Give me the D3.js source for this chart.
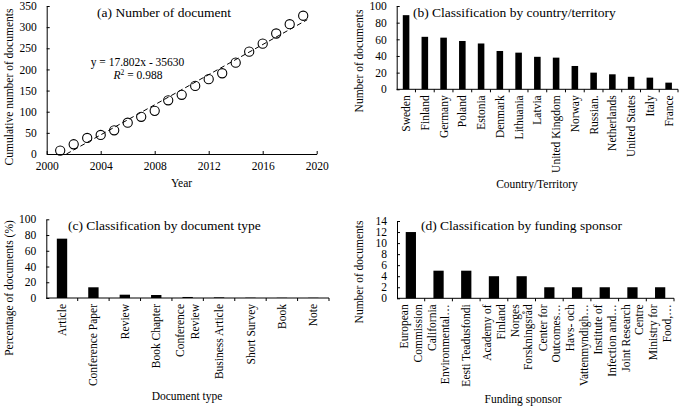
<!DOCTYPE html>
<html><head><meta charset="utf-8">
<script src="https://cdn.jsdelivr.net/npm/d3@7"></script>
<style>
body{margin:0;background:#fff}
svg{display:block}
text{font-family:"Liberation Serif","Times New Roman",serif;fill:#000}
</style>
</head><body><svg id="chart" width="685" height="406"></svg>
<script>
// ---------- DATA ----------
const years = [2001,2002,2003,2004,2005,2006,2007,2008,2009,2010,2011,2012,2013,2014,2015,2016,2017,2018,2019];
const cumulativeDocs = [8,23,38,45,56,74,88,102,127,140,161,177,191,216,242,261,285,307,327];
const yearTicks = [2000,2004,2008,2012,2016,2020];
const cumTicks = [0,50,100,150,200,250,300,350];
const trendSlope = 17.802, trendIntercept = -35630;
const trendRange = [2001.46, 2019.3];

const countries = ["Sweden","Finland","Germany","Poland","Estonia","Denmark","Lithuania","Latvia","United Kingdom","Norway","Russian.","Netherlands","United States","Italy","France"];
const countryDocs = [89,63,62,58,55,46,44,39,38,28,20,18,15,14,8];
const countryTicks = [0,20,40,60,80,100];

const docTypes = [["Article"],["Conference Paper"],["Review"],["Book Chapter"],["Conference","Review"],["Business Article"],["Short Survey"],["Book"],["Note"]];
const docTypePct = [75.4,13.6,4.2,3.8,1.3,0.8,0.4,0.3,0.3];
const pctTicks = [0,20,40,60,80,100];

const sponsors = [["European","Commission"],["California","Environmental\u2026"],["Eesti Teadusfondi"],["Academy of","Finland"],["Norges","Forskningsr\u00e5d"],["Center for","Outcomes\u2026"],["Havs- och","Vattenmyndigh\u2026"],["Institute of","Infection and\u2026"],["Joint Research","Centre"],["Ministry for","Food,\u2026"]];
const sponsorDocs = [12,5,5,4,4,2,2,2,2,2];
const sponsorTicks = [0,2,4,6,8,10,12,14];

// ---------- DRAW ----------
const svg = d3.select("#chart");
const TICK_FS = 11.5, TITLE_FS = 13.5, AXT_FS = 11.5;

function yAxis(g, scale, x, ticks){
  const ax = d3.axisLeft(scale).tickValues(ticks).tickSizeInner(-3).tickSizeOuter(0).tickPadding(10);
  const a = g.append("g").attr("transform",`translate(${x},0)`).call(ax);
  a.selectAll("path,line").attr("stroke","#000").attr("stroke-width",1);
  a.selectAll("text").style("font-size",TICK_FS+"px").style("font-family",'"Liberation Serif",serif').attr("fill","#000");
  return a;
}

function catAxis(g, band, y, labels, lineGap){
  const r = band.range();
  g.append("line").attr("x1",r[0]).attr("x2",r[1]).attr("y1",y).attr("y2",y).attr("stroke","#000");
  const n = band.domain().length;
  for(let i=1;i<=n;i++){
    const x = r[0] + band.step()*i;
    g.append("line").attr("x1",x).attr("x2",x).attr("y1",y).attr("y2",y+3).attr("stroke","#000");
  }
  band.domain().forEach((d,i)=>{
    const lines = labels[i];
    const cx = band(d) + band.bandwidth()/2;
    lines.forEach((t,j)=>{
      const lx = cx + (j-(lines.length-1)/2)*lineGap;
      g.append("text").attr("transform",`translate(${lx},${y+6}) rotate(-90)`)
        .attr("text-anchor","end").attr("dy","0.35em").style("font-size",TICK_FS+"px").text(t);
    });
  });
}

function title(g, txt, x, y, anchor){
  g.append("text").attr("x",x).attr("y",y).attr("text-anchor",anchor||"start").style("font-size",TITLE_FS+"px").text(txt);
}
function xTitle(g, txt, x, y){
  g.append("text").attr("x",x).attr("y",y).attr("text-anchor","middle").style("font-size",AXT_FS+"px").text(txt);
}
function yTitle(g, txt, x, y){
  g.append("text").attr("transform",`translate(${x},${y}) rotate(-90)`).attr("text-anchor","middle")
    .attr("dominant-baseline","central").style("font-size",AXT_FS+"px").text(txt);
}

// ----- Panel (a)
{
  const g = svg.append("g");
  const x = d3.scaleLinear().domain([2000,2020]).range([46.7,316.7]);
  const y = d3.scaleLinear().domain([0,350]).range([154,6]);
  const xa = g.append("g").attr("transform",`translate(0,${y(0)})`)
    .call(d3.axisBottom(x).tickValues(yearTicks).tickFormat(d3.format("d")).tickSizeInner(-3).tickSizeOuter(0).tickPadding(7.5));
  xa.selectAll("path,line").attr("stroke","#000");
  xa.selectAll("text").style("font-size",TICK_FS+"px").style("font-family",'"Liberation Serif",serif').attr("fill","#000");
  yAxis(g, y, x(2000), cumTicks);
  // trend line
  g.append("line")
    .attr("x1",x(trendRange[0])).attr("y1",y(trendSlope*trendRange[0]+trendIntercept))
    .attr("x2",x(trendRange[1])).attr("y2",y(trendSlope*trendRange[1]+trendIntercept))
    .attr("stroke","#000").attr("stroke-width",1).attr("stroke-dasharray","5,3");
  g.selectAll("circle.pt").data(years).enter().append("circle")
    .attr("cx",d=>x(d)).attr("cy",(d,i)=>y(cumulativeDocs[i])).attr("r",4.6)
    .attr("fill","none").attr("stroke","#000").attr("stroke-width",1.1);
  title(g,"(a) Number of document",164,16.5,"middle");
  g.append("text").attr("x",137.5).attr("y",65.5).attr("text-anchor","middle").style("font-size","11.5px")
    .text(`y = ${trendSlope}x - ${Math.abs(trendIntercept)}`);
  const r2 = g.append("text").attr("x",138).attr("y",78.5).attr("text-anchor","middle").style("font-size","11.5px");
  r2.append("tspan").style("font-style","italic").text("R");
  r2.append("tspan").attr("dy","-4").style("font-size","7.5px").text("2");
  r2.append("tspan").attr("dy","4").text(" = 0.988");
  xTitle(g,"Year",181.5,187);
  yTitle(g,"Cumulative number of documents",8.5,87);
}

// ----- Panel (b)
{
  const g = svg.append("g");
  const x = d3.scaleBand().domain(countries).range([396.7,678]);
  const y = d3.scaleLinear().domain([0,100]).range([89.3,6]);
  const bw = x.bandwidth()*0.35;
  g.selectAll("rect").data(countries).enter().append("rect")
    .attr("x",d=>x(d)+x.bandwidth()/2-bw/2).attr("width",bw)
    .attr("y",(d,i)=>y(countryDocs[i])).attr("height",(d,i)=>y(0)-y(countryDocs[i])).attr("fill","#000");
  catAxis(g, x, y(0), countries.map(c=>[c]), 13.5);
  yAxis(g, y, 396.7, countryTicks);
  title(g,"(b) Classification by country/territory",413,16.5);
  xTitle(g,"Country/Territory",537,188);
  yTitle(g,"Number of documents",358.5,61);
}

// ----- Panel (c)
{
  const g = svg.append("g");
  const names = docTypes.map(d=>d.join(" "));
  const x = d3.scaleBand().domain(names).range([46.3,329]);
  const y = d3.scaleLinear().domain([0,100]).range([298,219.3]);
  const bw = x.bandwidth()*0.33;
  g.selectAll("rect").data(names).enter().append("rect")
    .attr("x",d=>x(d)+x.bandwidth()/2-bw/2).attr("width",bw)
    .attr("y",(d,i)=>y(docTypePct[i])).attr("height",(d,i)=>y(0)-y(docTypePct[i])).attr("fill","#000");
  catAxis(g, x, y(0), docTypes, 15);
  yAxis(g, y, 46.3, pctTicks);
  title(g,"(c) Classification by document type",68,229.5);
  xTitle(g,"Document type",187,400);
  yTitle(g,"Percentage of documents (%)",8.5,288);
}

// ----- Panel (d)
{
  const g = svg.append("g");
  const names = sponsors.map(d=>d.join(" "));
  const x = d3.scaleBand().domain(names).range([397,674]);
  const y = d3.scaleLinear().domain([0,14]).range([298.3,221]);
  const bw = x.bandwidth()*0.37;
  g.selectAll("rect").data(names).enter().append("rect")
    .attr("x",d=>x(d)+x.bandwidth()/2-bw/2).attr("width",bw)
    .attr("y",(d,i)=>y(sponsorDocs[i])).attr("height",(d,i)=>y(0)-y(sponsorDocs[i])).attr("fill","#000");
  catAxis(g, x, y(0), sponsors, 13.5);
  yAxis(g, y, 397, sponsorTicks);
  title(g,"(d) Classification by funding sponsor",421,229.5);
  xTitle(g,"Funding sponsor",523,403);
  yTitle(g,"Number of documents",358.5,272);
}
</script></body></html>
